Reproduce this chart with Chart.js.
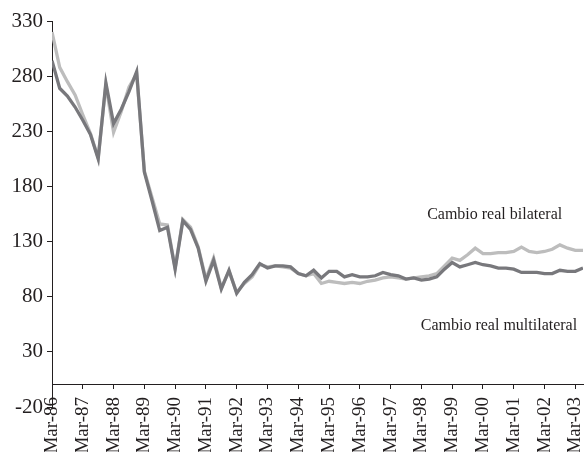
<!DOCTYPE html>
<html>
<head>
<meta charset="utf-8">
<script src="https://cdn.jsdelivr.net/npm/chart.js@4/dist/chart.umd.min.js"></script>
<style>
  html, body { margin: 0; padding: 0; background: #fff; }
  #chart { display: block; }
</style>
</head>
<body>
<canvas id="chart" width="585" height="452"></canvas>
<script>
// quarterly series, Mar-86 .. Jun-03
const multilateral = [
  294, 269, 262, 252, 240, 227, 205, 274, 237, 250, 266, 284,
  193, 167, 140, 143, 105, 149, 141, 124, 94, 113, 87, 104,
  83, 93, 100, 110, 106, 108, 108, 107, 101, 99, 104, 97,
  103, 103, 98, 100, 98, 98, 99, 102, 100, 99, 96, 97,
  95, 96, 98, 105, 111, 107, 109, 111, 109, 108, 106, 106,
  105, 102, 102, 102, 101, 101, 104, 103, 103, 106
];
const bilateral = [
  320, 288, 275, 263, 245, 228, 206, 272, 229, 248, 270, 282,
  194, 170, 146, 145, 106, 150, 143, 125, 96, 115, 88, 103,
  84, 92, 98, 109, 107, 108, 107, 106, 101, 99, 101, 92,
  94, 93, 92, 93, 92, 94, 95, 97, 98, 97, 96, 97,
  98, 99, 101, 108, 115, 113, 118, 124, 119, 119, 120, 120,
  121, 125, 121, 120, 121, 123, 127, 124, 122, 122
];
const xLabels = [
  'Mar-86', 'Mar-87', 'Mar-88', 'Mar-89', 'Mar-90', 'Mar-91', 'Mar-92', 'Mar-93', 'Mar-94',
  'Mar-95', 'Mar-96', 'Mar-97', 'Mar-98', 'Mar-99', 'Mar-00', 'Mar-01', 'Mar-02', 'Mar-03'
];
const yTicks = [-20, 30, 80, 130, 180, 230, 280, 330];
const seriesNames = ['Cambio real multilateral', 'Cambio real bilateral'];

const SERIF = '"Liberation Serif", "Times New Roman", serif';
const INK = '#231f20';

// one point per quarter, x measured in years from Mar-86
const toPoints = arr => arr.map((v, i) => ({ x: i / 4, y: v }));

// series names written next to the lines
const lineLabels = {
  id: 'lineLabels',
  afterDraw(chart) {
    const { ctx, scales } = chart;
    ctx.save();
    ctx.fillStyle = INK;
    ctx.font = '16px ' + SERIF;
    ctx.textAlign = 'center';
    ctx.textBaseline = 'middle';
    ctx.fillText(seriesNames[1], scales.x.getPixelForValue(14.38), scales.y.getPixelForValue(154));
    ctx.fillText(seriesNames[0], scales.x.getPixelForValue(14.52), scales.y.getPixelForValue(54));
    ctx.restore();
  }
};

new Chart(document.getElementById('chart'), {
  type: 'line',
  data: {
    datasets: [
      {
        label: seriesNames[0],
        data: toPoints(multilateral),
        borderColor: '#78787c',
        borderWidth: 3.3,
        pointRadius: 0,
        tension: 0
      },
      {
        label: seriesNames[1],
        data: toPoints(bilateral),
        borderColor: '#bdbdbd',
        borderWidth: 3.3,
        pointRadius: 0,
        tension: 0
      }
    ]
  },
  options: {
    responsive: false,
    animation: false,
    devicePixelRatio: 1,
    layout: { padding: { top: 21, right: 2, bottom: 45, left: 0 } },
    plugins: {
      legend: { display: false },
      tooltip: { enabled: false }
    },
    scales: {
      x: {
        type: 'linear',
        position: { y: 0 },
        min: 0,
        max: 17.25,
        afterBuildTicks: scale => {
          scale.ticks = xLabels.map((_, i) => ({ value: i }));
        },
        afterFit: scale => {
          scale.paddingLeft = 0;
          scale.paddingRight = 0;
        },
        ticks: {
          autoSkip: false,
          minRotation: 90,
          maxRotation: 90,
          padding: 8,
          color: INK,
          font: { family: SERIF, size: 19 },
          callback: value => xLabels[value]
        },
        grid: { drawOnChartArea: false, drawTicks: true, tickLength: 4, color: INK },
        border: { display: true, color: INK, width: 1 }
      },
      y: {
        min: -20,
        max: 330,
        afterBuildTicks: scale => {
          scale.ticks = yTicks.map(v => ({ value: v }));
        },
        afterFit: scale => {
          scale.width = 52;
        },
        ticks: {
          padding: 4,
          color: INK,
          font: { family: SERIF, size: 21 }
        },
        grid: { drawOnChartArea: false, drawTicks: true, tickLength: 5, color: INK },
        border: { display: true, color: INK, width: 1 }
      }
    }
  },
  plugins: [lineLabels]
});
</script>
</body>
</html>
